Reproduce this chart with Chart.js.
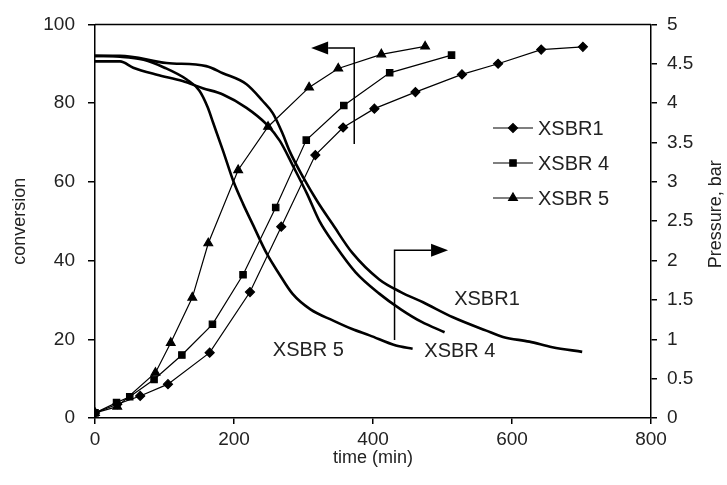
<!DOCTYPE html>
<html>
<head>
<meta charset="utf-8">
<script src="https://cdn.jsdelivr.net/npm/chart.js@4.4.1/dist/chart.umd.min.js"></script>
<style>
    html, body { margin: 0; padding: 0; background: #fff; }
    #chart { display: block; }
</style>
</head>
<body>
<canvas id="chart" width="727" height="485"></canvas>
<script>
// conversion curves (left axis), time in min
const xsbr1Time = [0, 32, 65, 105, 165, 223, 268, 317, 357, 402, 461, 528, 580, 642, 702];
const xsbr1Conv = [1.3, 3.5, 5.6, 8.6, 16.6, 32, 48.6, 66.8, 73.8, 78.6, 82.8, 87.3, 90, 93.6, 94.3];
const xsbr4Time = [0, 31, 50, 85, 125, 169, 213, 260, 304, 358, 424, 513];
const xsbr4Conv = [1.3, 3.9, 5.4, 9.8, 16, 23.8, 36.4, 53.5, 70.6, 79.4, 87.7, 92.2];
const xsbr5Time = [0, 32, 87, 109, 140, 163, 206, 249, 308, 350, 412, 475];
const xsbr5Conv = [1.3, 2.9, 11.5, 19.1, 30.6, 44.4, 63, 74, 84, 88.8, 92.4, 94.4];

// pressure curves (right axis, bar)
const p1Time = [0, 36, 103, 160, 184, 218, 241, 256, 270, 280, 300, 320, 342, 370, 409, 440, 472, 515, 563, 587, 625, 658, 701];
const p1Bar = [4.6, 4.6, 4.51, 4.47, 4.38, 4.24, 4.03, 3.87, 3.61, 3.39, 3.05, 2.75, 2.46, 2.1, 1.76, 1.6, 1.47, 1.28, 1.11, 1.03, 0.97, 0.9, 0.84];
const p4Time = [0, 36, 55, 89, 126, 155, 184, 218, 247, 266, 285, 305, 323, 345, 375, 409, 440, 470, 503];
const p4Bar = [4.53, 4.53, 4.45, 4.36, 4.28, 4.19, 4.11, 3.94, 3.73, 3.52, 3.2, 2.85, 2.5, 2.2, 1.85, 1.58, 1.38, 1.22, 1.09];
const p5Time = [0, 36, 70, 100, 132, 150, 162, 170, 184, 199, 213, 227, 247, 265, 284, 310, 342, 370, 395, 433, 457];
const p5Bar = [4.6, 4.59, 4.55, 4.45, 4.3, 4.16, 3.95, 3.75, 3.4, 3.01, 2.72, 2.46, 2.09, 1.83, 1.58, 1.38, 1.24, 1.13, 1.05, 0.92, 0.88];

// legend entries and curve labels
const seriesNames = ['XSBR1', 'XSBR 4', 'XSBR 5'];
const markerStyles = ['rectRot', 'rect', 'triangle'];
const curveLabels = ['XSBR1', 'XSBR 4', 'XSBR 5'];
const curveLabelTime = [564, 525, 307];
const curveLabelBar = [1.5, 0.85, 0.86];

// arrows: [stem time, stem top, stem bottom, tip time]
const convArrow = [373, 94, 69.6, 311];   // conversion units, points left
const presArrow = [431, 2.13, 0.99, 508]; // bar units, points right

const FONT = "'Liberation Sans', Arial, sans-serif";
const TEXT = '#222';

function pairs(xs, ys) {
    return xs.map((x, i) => ({ x: x, y: ys[i] }));
}

function convSet(label, xs, ys, style) {
    return {
        label: label,
        data: pairs(xs, ys),
        yAxisID: 'y',
        showLine: true,
        borderColor: '#000',
        backgroundColor: '#000',
        borderWidth: 1.2,
        pointStyle: style,
        pointRadius: style === 'triangle' ? 5 : 4.5,
        tension: 0
    };
}

function presSet(label, xs, ys) {
    return {
        label: label,
        data: pairs(xs, ys),
        yAxisID: 'y1',
        showLine: true,
        borderColor: '#000',
        borderWidth: 2.6,
        pointRadius: 0,
        cubicInterpolationMode: 'monotone'
    };
}

// extra drawings: top frame, arrows, curve labels, legend, right title
const extrasPlugin = {
    id: 'extras',
    afterDatasetsDraw(chart) {
        const { ctx, chartArea, scales } = chart;
        const x = scales.x, y = scales.y, y1 = scales.y1;
        ctx.save();
        ctx.strokeStyle = '#000';
        ctx.fillStyle = '#000';

        // top frame line
        ctx.lineWidth = 1.5;
        ctx.beginPath();
        ctx.moveTo(chartArea.left, chartArea.top);
        ctx.lineTo(chartArea.right, chartArea.top);
        ctx.stroke();

        // arrows
        function arrow(a, sc, dir) {
            const sx = x.getPixelForValue(a[0]);
            const top = sc.getPixelForValue(a[1]);
            const bot = sc.getPixelForValue(a[2]);
            const tip = x.getPixelForValue(a[3]);
            const head = 17 * dir;
            ctx.lineWidth = 1.5;
            ctx.beginPath();
            ctx.moveTo(sx, bot);
            ctx.lineTo(sx, top);
            ctx.lineTo(tip - head, top);
            ctx.stroke();
            ctx.beginPath();
            ctx.moveTo(tip, top);
            ctx.lineTo(tip - head, top - 6.5);
            ctx.lineTo(tip - head, top + 6.5);
            ctx.closePath();
            ctx.fill();
        }
        arrow(convArrow, y, -1);
        arrow(presArrow, y1, 1);

        // curve labels
        ctx.font = '20px ' + FONT;
        ctx.fillStyle = TEXT;
        ctx.textAlign = 'center';
        ctx.textBaseline = 'middle';
        curveLabels.forEach((t, i) => {
            ctx.fillText(t, x.getPixelForValue(curveLabelTime[i]), y1.getPixelForValue(curveLabelBar[i]));
        });

        // legend
        ctx.textAlign = 'left';
        seriesNames.forEach((name, i) => {
            const ly = 128 + i * 35;
            ctx.strokeStyle = '#000';
            ctx.lineWidth = 1.2;
            ctx.beginPath();
            ctx.moveTo(493, ly);
            ctx.lineTo(533, ly);
            ctx.stroke();
            ctx.fillStyle = '#000';
            Chart.helpers.drawPoint(ctx, {
                pointStyle: markerStyles[i],
                radius: markerStyles[i] === 'triangle' ? 5 : 4.5,
                rotation: 0,
                borderWidth: 1
            }, 513, ly);
            ctx.fillStyle = TEXT;
            ctx.fillText(name, 538, ly + 1);
        });

        // right axis title, reading upwards
        ctx.font = '18px ' + FONT;
        ctx.translate(716, (chartArea.top + chartArea.bottom) / 2 - 7);
        ctx.rotate(-Math.PI / 2);
        ctx.textAlign = 'center';
        ctx.fillText('Pressure, bar', 0, 0);
        ctx.restore();
    }
};

const axisLine = { color: '#000', width: 1.5 };
const tickFont = { family: FONT, size: 19 };
const titleFont = { family: FONT, size: 18 };

new Chart(document.getElementById('chart'), {
    type: 'scatter',
    data: {
        datasets: [
            convSet(seriesNames[0], xsbr1Time, xsbr1Conv, markerStyles[0]),
            convSet(seriesNames[1], xsbr4Time, xsbr4Conv, markerStyles[1]),
            convSet(seriesNames[2], xsbr5Time, xsbr5Conv, markerStyles[2]),
            presSet('P XSBR1', p1Time, p1Bar),
            presSet('P XSBR4', p4Time, p4Bar),
            presSet('P XSBR5', p5Time, p5Bar)
        ]
    },
    options: {
        responsive: false,
        animation: false,
        layout: { padding: { top: 23, left: 0, right: 0, bottom: 0 } },
        plugins: {
            legend: { display: false },
            tooltip: { enabled: false }
        },
        scales: {
            x: {
                type: 'linear',
                min: 0,
                max: 800,
                border: axisLine,
                grid: { drawOnChartArea: false, drawTicks: true, tickLength: 6, color: '#000', lineWidth: 1.5 },
                ticks: { stepSize: 200, color: TEXT, font: tickFont, padding: 4, maxRotation: 0 },
                title: { display: true, text: 'time (min)', color: TEXT, font: titleFont, padding: { top: 0, bottom: 16 } },
                afterFit(s) { s.height = 67; }
            },
            y: {
                position: 'left',
                min: 0,
                max: 100,
                border: axisLine,
                grid: { drawOnChartArea: false, drawTicks: true, tickLength: 7, color: '#000', lineWidth: 1.5 },
                ticks: { stepSize: 20, color: TEXT, font: tickFont, padding: 13 },
                title: { display: true, text: 'conversion', color: TEXT, font: titleFont, padding: { top: 9, bottom: 0 } },
                afterFit(s) { s.width = 95; }
            },
            y1: {
                position: 'right',
                min: 0,
                max: 5,
                border: axisLine,
                grid: { drawOnChartArea: false, drawTicks: true, tickLength: 6, color: '#000', lineWidth: 1.5 },
                ticks: { stepSize: 0.5, color: TEXT, font: tickFont, padding: 10, callback: v => String(v) },
                afterFit(s) { s.width = 76; }
            }
        }
    },
    plugins: [extrasPlugin]
});
</script>
</body>
</html>
